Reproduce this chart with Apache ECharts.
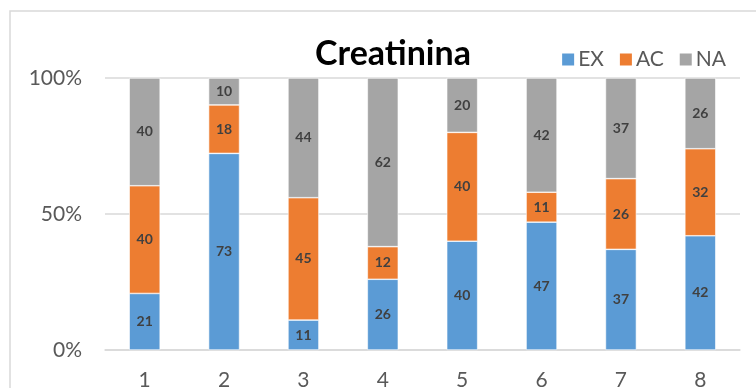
<!DOCTYPE html>
<html>
<head>
<meta charset="utf-8">
<script src="https://cdn.jsdelivr.net/npm/echarts@6/dist/echarts.min.js"></script>
<style>
  html, body { margin: 0; padding: 0; background: #fff; }
  #chart { width: 756px; height: 388px; }
</style>
</head>
<body>
<div id="chart"></div>
<script>
// raw counts per group (Excel 100% stacked, labels show the raw value)
const categories = ['1', '2', '3', '4', '5', '6', '7', '8'];
const exValues = [21, 73, 11, 26, 40, 47, 37, 42];
const acValues = [40, 18, 45, 12, 40, 11, 26, 32];
const naValues = [40, 10, 44, 62, 20, 42, 37, 26];
const yTicks = ['0%', '50%', '100%'];

const totals = categories.map((c, i) => exValues[i] + acValues[i] + naValues[i]);
function toPct(arr) {
  return arr.map((v, i) => ({ value: v / totals[i] * 100, raw: v }));
}

const font = 'Lato, "Open Sans", sans-serif';
const labelStyle = {
  show: true,
  position: 'inside',
  fontFamily: font,
  fontWeight: 'bold',
  fontSize: 14,
  color: '#404040',
  formatter: p => p.data.raw
};

function barSeries(name, values, color) {
  return {
    name: name,
    type: 'bar',
    stack: 'total',
    barWidth: '39%',
    data: toPct(values),
    itemStyle: { color: color, borderColor: '#fff', borderWidth: 0.6 },
    label: labelStyle
  };
}

const myChart = echarts.init(document.getElementById('chart'));
myChart.setOption({
  animation: false,
  graphic: [{
    type: 'rect',
    shape: { x: 10, y: 11, width: 800, height: 420 },
    style: { fill: 'none', stroke: '#d9d9d9', lineWidth: 1.5 },
    z: -1
  }],
  title: {
    text: 'Creatinina',
    left: 310,
    top: 32,
    textStyle: { fontFamily: font, fontWeight: 'bold', fontSize: 34, color: '#000' }
  },
  legend: {
    right: 25,
    top: 44,
    itemWidth: 14,
    itemHeight: 14,
    itemGap: 14,
    icon: 'rect',
    textStyle: { fontFamily: font, fontSize: 21, color: '#595959', padding: [0, 0, 0, -2] },
    data: ['EX', 'AC', 'NA']
  },
  grid: { left: 105, right: 16, top: 78, bottom: 38, containLabel: false, outerBoundsMode: 'none' },
  xAxis: {
    type: 'category',
    data: categories,
    axisTick: { show: false },
    axisLine: { show: true, lineStyle: { color: '#d9d9d9', width: 1.5 } },
    axisLabel: { fontFamily: font, fontSize: 21, color: '#595959', margin: 20 }
  },
  yAxis: {
    type: 'value',
    min: 0,
    max: 100,
    interval: 50,
    axisLine: { show: false },
    axisTick: { show: false },
    splitLine: { lineStyle: { color: '#d9d9d9', width: 1.5 } },
    axisLabel: {
      fontFamily: font, fontSize: 21, color: '#595959', margin: 23,
      formatter: v => yTicks[v / 50]
    }
  },
  series: [
    barSeries('EX', exValues, '#5b9bd5'),
    barSeries('AC', acValues, '#ed7d31'),
    barSeries('NA', naValues, '#a5a5a5')
  ]
});
</script>
</body>
</html>
